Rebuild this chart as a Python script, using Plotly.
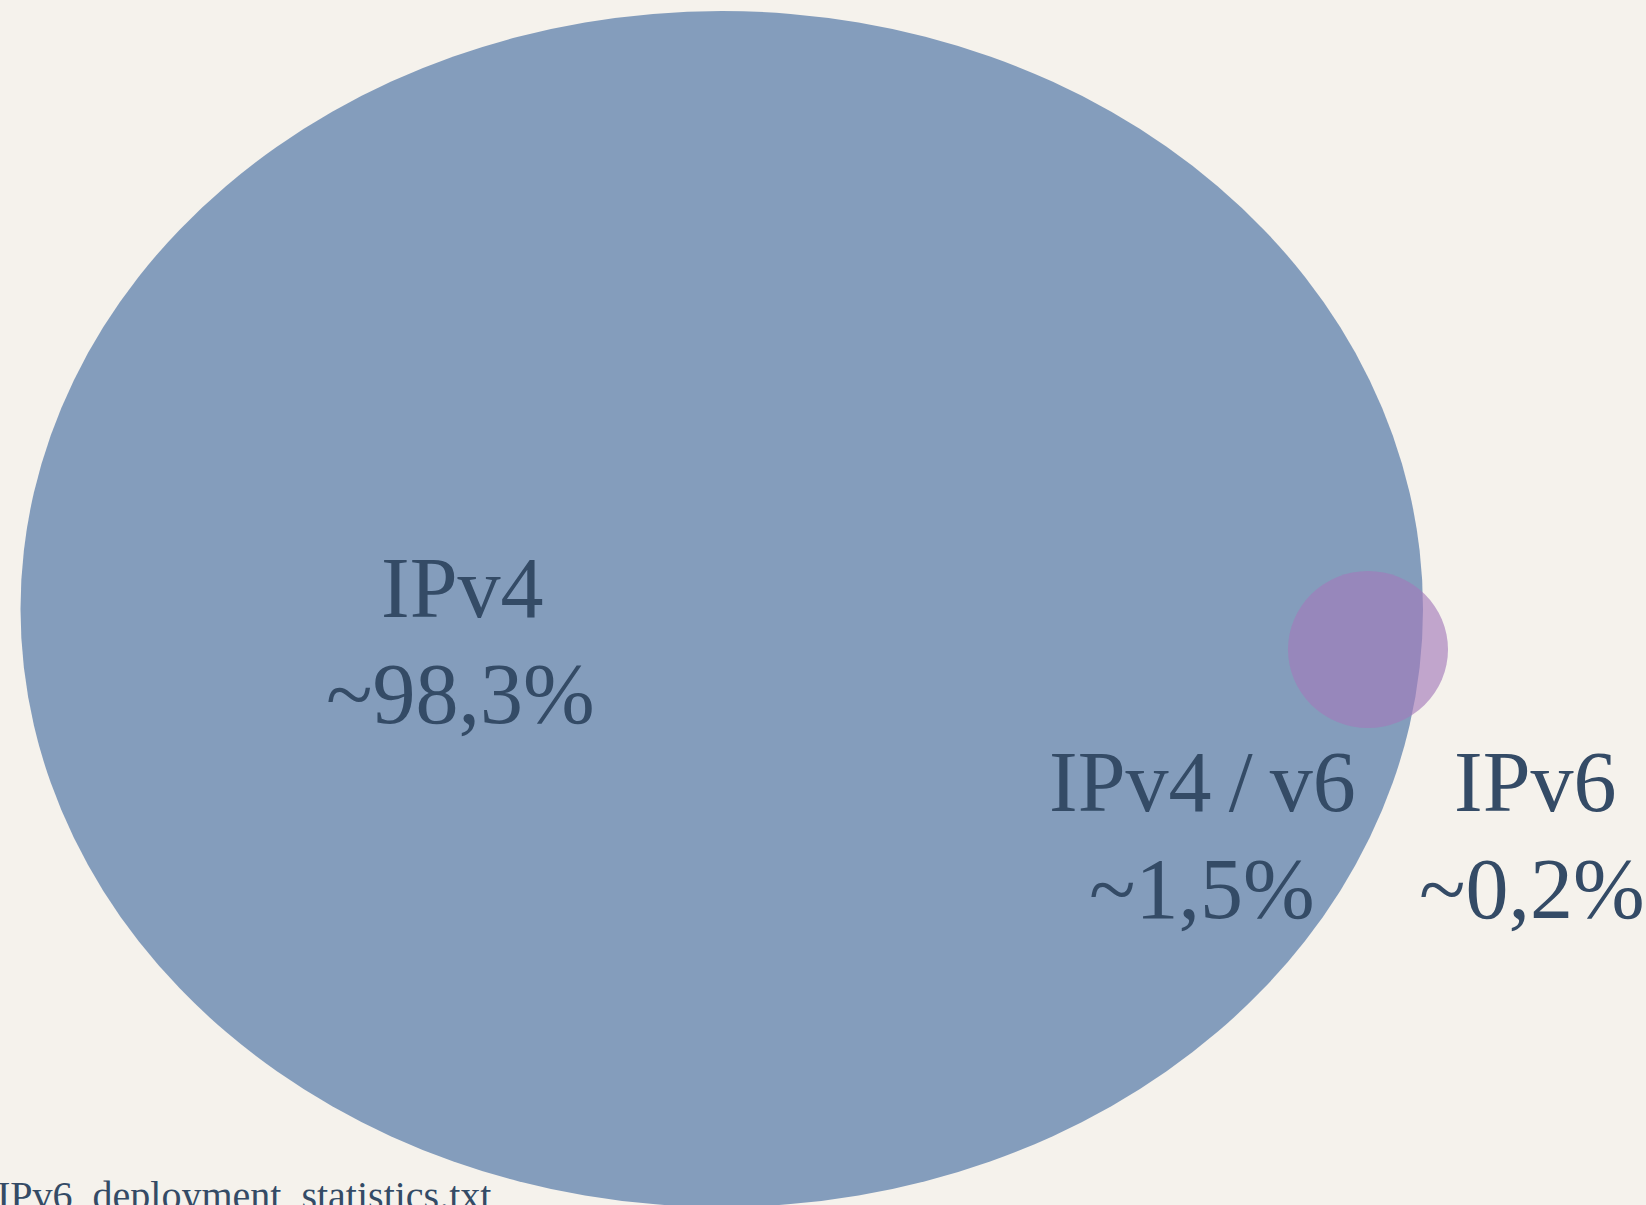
import plotly.graph_objects as go

# --- data ---
set_names = ["IPv4", "IPv4\u2009/\u2009v6", "IPv6"]
shares_pct = [98.3, 1.5, 0.2]
source_note = "IPv6_deployment_statistics.txt"

# --- layout constants (pixel-space coordinates) ---
W, H = 1646, 1205
BG = "#F5F2EC"
TEXT = "#344B66"
FONT = "Liberation Serif, Tinos, Times New Roman, serif"
FS = 86

big_ellipse = dict(x0=20.5, x1=1423, y0=11, y1=1207, color="#849DBC")
small_circle = dict(x0=1288, x1=1448, y0=571, y1=728, color="rgba(162,122,186,0.64)")

# label anchor centers (x) and baselines of line 1 / line 2
label_x = [462, 1202, 1535]
pct_x = [460, 1202, 1532]
line1_baseline = [617, 811, 811]
line2_baseline = [723, 918, 918]

fig = go.Figure()
# invisible trace to set up axes
fig.add_trace(go.Scatter(x=[0, W], y=[0, H], mode="markers",
                         marker=dict(opacity=0), hoverinfo="skip", showlegend=False))

for s in (big_ellipse, small_circle):
    fig.add_shape(type="circle", xref="x", yref="y",
                  x0=s["x0"], x1=s["x1"], y0=s["y0"], y1=s["y1"],
                  fillcolor=s["color"], line=dict(width=0), layer="above")

def fmt(v):
    return "~" + f"{v:.1f}".replace(".", ",") + "%"

# offset from baseline to the middle of the text box
OFF = 0.27 * FS + 6
for name, v, x, px, b1, b2 in zip(set_names, shares_pct, label_x, pct_x,
                                  line1_baseline, line2_baseline):
    fig.add_annotation(x=x, y=b1 - OFF, text=name, showarrow=False,
                       xanchor="center", yanchor="middle",
                       font=dict(family=FONT, size=FS, color=TEXT))
    fig.add_annotation(x=px, y=b2 - OFF, text=fmt(v), showarrow=False,
                       xanchor="center", yanchor="middle",
                       font=dict(family=FONT, size=FS, color=TEXT))

NOTE_FS = 40
note_center_y = 1210 - 0.27 * NOTE_FS - 4
fig.add_annotation(xref="paper", yref="paper",
                   x=-5 / W, y=1 - note_center_y / H, text=source_note, showarrow=False,
                   xanchor="left", yanchor="middle",
                   font=dict(family=FONT, size=NOTE_FS, color=TEXT))

fig.update_xaxes(range=[0, W], visible=False, fixedrange=True)
fig.update_yaxes(range=[H, 0], visible=False, fixedrange=True)
fig.update_layout(width=W, height=H, autosize=False,
                  margin=dict(l=0, r=0, t=0, b=0),
                  paper_bgcolor=BG, plot_bgcolor=BG,
                  showlegend=False)

fig.write_html("out.html", config={"displayModeBar": False},
               post_script="document.body.style.margin='0';"
                           "document.body.style.overflow='hidden';"
                           "document.body.style.background='" + BG + "';")
